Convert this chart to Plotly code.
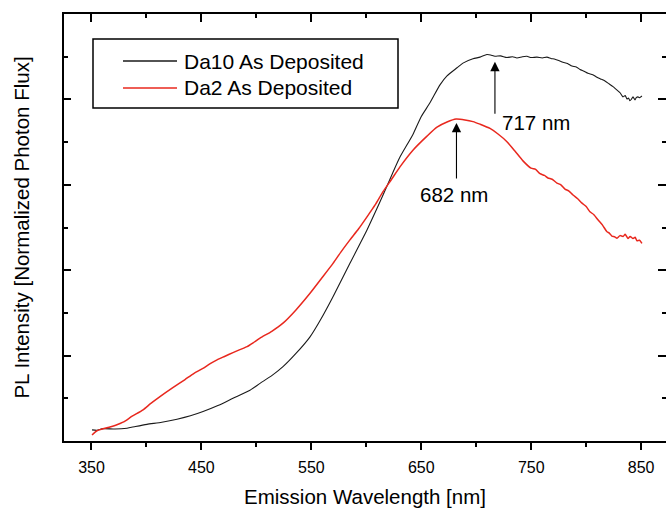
import plotly.graph_objects as go

# ---- data ----
da10_wl = [350.5, 355.0, 360.5, 371.4, 382.3, 390.0, 400.5, 414.0, 427.8, 440.0, 451.5, 465.0,
           478.7, 494.2, 503.3, 514.0, 524.2, 536.0, 548.8, 559.0, 569.7, 585.1, 600.6, 608.0,
           615.2, 623.0, 630.6, 642.4, 650.0, 657.9, 667.0, 673.4, 682.5, 687.9, 697.0, 703.4,
           709.7, 713.0, 717.0, 722.0, 727.9, 733.0, 737.0, 742.0, 746.1, 750.0, 755.2, 760.0,
           764.3, 768.0, 771.6, 775.0, 778.9, 783.0, 787.1, 791.0, 794.4, 798.0, 801.6, 806.0,
           809.8, 813.0, 817.1, 821.0, 824.4, 828.9, 831.0, 833.5, 835.5, 837.1, 838.5, 839.8,
           841.0, 842.6, 844.4, 845.5, 847.1, 848.5, 850.7]
da10_val = [0.026, 0.025, 0.029, 0.028, 0.030, 0.034, 0.039, 0.044, 0.051, 0.059, 0.069, 0.083,
            0.100, 0.119, 0.135, 0.153, 0.174, 0.205, 0.244, 0.287, 0.338, 0.416, 0.494, 0.535,
            0.576, 0.622, 0.665, 0.718, 0.760, 0.792, 0.834, 0.855, 0.874, 0.885, 0.895, 0.899,
            0.905, 0.904, 0.901, 0.902, 0.898, 0.900, 0.897, 0.900, 0.901, 0.898, 0.899, 0.897,
            0.899, 0.896, 0.894, 0.891, 0.887, 0.884, 0.878, 0.876, 0.870, 0.866, 0.861, 0.858,
            0.852, 0.848, 0.843, 0.836, 0.830, 0.820, 0.815, 0.806, 0.809, 0.801, 0.803, 0.797,
            0.800, 0.806, 0.799, 0.804, 0.806, 0.804, 0.808]

da2_wl = [350.5, 355.0, 362.3, 366.8, 372.0, 378.7, 387.0, 396.9, 404.0, 412.3, 424.0, 435.1,
          443.0, 451.4, 458.0, 464.2, 471.0, 478.7, 485.0, 491.5, 497.0, 503.3, 514.0, 524.2,
          536.0, 548.8, 559.0, 569.7, 577.0, 585.1, 593.0, 600.6, 608.0, 615.2, 623.0, 630.6,
          642.4, 655.2, 664.3, 673.4, 681.6, 689.7, 697.0, 703.4, 712.5, 719.8, 727.9, 735.2,
          742.5, 749.8, 754.0, 758.0, 762.0, 765.2, 769.0, 773.4, 777.0, 780.7, 784.0, 788.0,
          792.0, 796.2, 800.0, 803.4, 807.0, 810.7, 815.0, 818.9, 821.0, 823.4, 826.0, 828.0,
          830.7, 833.5, 835.5, 838.0, 840.0, 842.6, 844.5, 846.2, 848.5, 850.7]
da2_val = [0.014, 0.024, 0.030, 0.033, 0.037, 0.044, 0.058, 0.073, 0.088, 0.104, 0.125, 0.144,
           0.158, 0.170, 0.181, 0.190, 0.198, 0.207, 0.214, 0.221, 0.230, 0.241, 0.257, 0.276,
           0.307, 0.346, 0.380, 0.416, 0.443, 0.471, 0.497, 0.525, 0.553, 0.584, 0.613, 0.642,
           0.681, 0.714, 0.735, 0.747, 0.754, 0.752, 0.748, 0.742, 0.732, 0.719, 0.701, 0.679,
           0.656, 0.639, 0.636, 0.626, 0.622, 0.616, 0.613, 0.604, 0.600, 0.590, 0.586, 0.576,
           0.568, 0.557, 0.549, 0.537, 0.530, 0.518, 0.505, 0.490, 0.487, 0.480, 0.478, 0.475,
           0.481, 0.479, 0.484, 0.474, 0.479, 0.474, 0.477, 0.469, 0.470, 0.463]

series_names = ["Da10 As Deposited", "Da2 As Deposited"]
series_colors = ["#1a1a1a", "#e8281e"]
peak_labels = ["717 nm", "682 nm"]
peak_wl = [717, 682]

x_range = [325, 872.6]
y_range = [0, 1]
FONT = "Arial, Liberation Sans, sans-serif"

fig = go.Figure()
fig.add_trace(go.Scatter(x=da10_wl, y=da10_val, mode="lines", name=series_names[0],
                         line=dict(color=series_colors[0], width=1.1, shape="spline", smoothing=0.6),
                         showlegend=False))
fig.add_trace(go.Scatter(x=da2_wl, y=da2_val, mode="lines", name=series_names[1],
                         line=dict(color=series_colors[1], width=1.5, shape="spline", smoothing=0.6),
                         showlegend=False))
# helper trace so the mirrored axes are drawn
fig.add_trace(go.Scatter(x=[da10_wl[0]], y=[da10_val[0]], xaxis="x2", yaxis="y2", mode="markers",
                         marker=dict(opacity=0), hoverinfo="skip", showlegend=False))

tick_common = dict(tickcolor="black", tickwidth=1.5)
fig.update_layout(
    width=666, height=509,
    margin=dict(l=64, r=0, t=14, b=68),
    paper_bgcolor="white", plot_bgcolor="white",
    font=dict(family=FONT, color="black"),
    xaxis=dict(range=x_range, showgrid=False, zeroline=False, showline=True, linecolor="black",
               linewidth=2, ticks="outside", ticklen=7, tick0=350, dtick=100, **tick_common,
               tickfont=dict(size=16), ticklabelstandoff=4,
               minor=dict(ticks="outside", ticklen=4, tick0=350, dtick=50, tickcolor="black", tickwidth=1.5),
               title=dict(text="Emission Wavelength [nm]", font=dict(size=20.5), standoff=14)),
    xaxis2=dict(range=x_range, overlaying="x", side="top", anchor="y", showgrid=False, zeroline=False,
                showline=True, linecolor="black", linewidth=2, ticks="inside", ticklen=8,
                tick0=350, dtick=100, **tick_common, showticklabels=False,
                minor=dict(ticks="inside", ticklen=4, tick0=350, dtick=50, tickcolor="black", tickwidth=1.5)),
    yaxis=dict(range=y_range, showgrid=False, zeroline=False, showline=True, linecolor="black",
               linewidth=2, ticks="inside", ticklen=7, tick0=0, dtick=0.2, **tick_common,
               showticklabels=False,
               minor=dict(ticks="inside", ticklen=4, tick0=0, dtick=0.1, tickcolor="black", tickwidth=1.5),
               title=dict(text="PL Intensity [Normalized Photon Flux]", font=dict(size=20.5), standoff=27)),
    yaxis2=dict(range=y_range, overlaying="y", side="right", anchor="x", showgrid=False, zeroline=False,
                showline=False, ticks="inside", ticklen=8, tick0=0, dtick=0.2, **tick_common,
                showticklabels=False,
                minor=dict(ticks="inside", ticklen=4, tick0=0, dtick=0.1, tickcolor="black", tickwidth=1.5)),
)

# legend drawn by hand (pixel layout of the reference)
def px_x(p):
    return (p - 64) / 602.0

def px_y(p):
    return (441 - p) / 427.0

fig.add_shape(type="rect", xref="paper", yref="paper", x0=px_x(93), x1=px_x(398),
              y0=px_y(108), y1=px_y(39), line=dict(color="black", width=1.5), fillcolor="white")
for i, py in enumerate([61, 88]):
    fig.add_shape(type="line", xref="paper", yref="paper", x0=px_x(123), x1=px_x(177),
                  y0=px_y(py), y1=px_y(py), line=dict(color=series_colors[i], width=1.3 if i == 0 else 1.6))
    fig.add_annotation(xref="paper", yref="paper", x=px_x(182), y=px_y(py), text=series_names[i],
                       showarrow=False, xanchor="left", yanchor="middle", font=dict(size=21, family=FONT))

# peak arrows
arrow_tip = [0.888, 0.745]
arrow_tail = [0.763, 0.611]
for i in range(2):
    fig.add_annotation(x=peak_wl[i], y=arrow_tip[i], ax=peak_wl[i], ay=arrow_tail[i],
                       xref="x", yref="y", axref="x", ayref="y", text="", showarrow=True,
                       arrowhead=2, arrowsize=1.7, arrowwidth=1.1, arrowcolor="black")
fig.add_annotation(x=721.5, y=0.746, xref="x", yref="y", text=peak_labels[0], showarrow=False,
                   xanchor="left", yanchor="middle", font=dict(size=20.5, family=FONT))
fig.add_annotation(x=680, y=0.577, xref="x", yref="y", text=peak_labels[1], showarrow=False,
                   xanchor="center", yanchor="middle", font=dict(size=20.5, family=FONT))

fig.write_html("out.html")
